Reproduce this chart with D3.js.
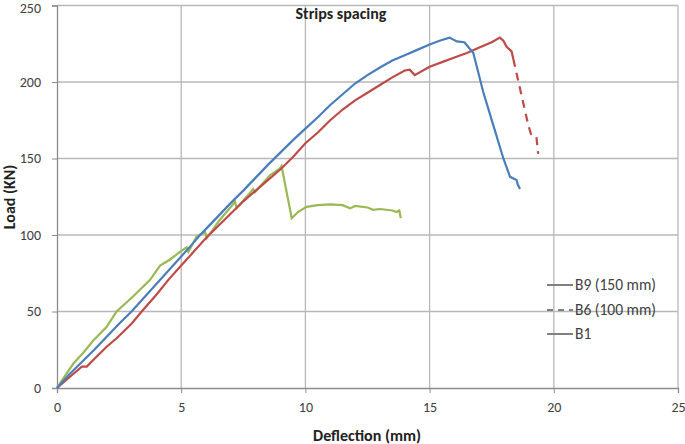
<!DOCTYPE html>
<html><head><meta charset="utf-8">
<script src="https://cdn.jsdelivr.net/npm/d3@7"></script>
<style>
body{margin:0;background:#fff;}
text{font-family:Carlito,Calibri,Lato,"Open Sans",sans-serif;}
</style></head>
<body><svg id="c" width="685" height="444"></svg>
<script>
const title = "Strips spacing";
const xLabel = "Deflection (mm)";
const yLabel = "Load (KN)";
const xTicks = [0,5,10,15,20,25];
const yTicks = [0,50,100,150,200,250];
const legendNames = ["B9 (150 mm)","B6 (100 mm)","B1"];

const blueB9 = [[0,0],[0.5,9],[1,17],[1.5,25],[2,33.5],[2.5,42],[3,50],[3.5,59],[4,68],[4.5,77],[5,86],[5.5,95],[5.76,100],[6,104],[6.5,112.5],[7,121],[7.5,129],[8,137.5],[8.5,146],[9,154],[9.5,162],[10,169.5],[10.5,177],[11,185],[11.5,192],[12,199],[12.5,204.5],[13,209.5],[13.5,214],[14,217.5],[14.5,221],[15,224.5],[15.4,227],[15.8,229],[16.1,226.5],[16.4,226],[16.5,224],[16.76,219],[17.16,193.5],[17.56,172],[17.97,150],[18.24,138],[18.5,136],[18.55,133],[18.64,130]];

const redB6 = [[0,0],[0.5,7],[1,14],[1.2,14],[1.5,19],[2,27],[2.4,32.5],[3,42],[3.41,50],[4,61],[4.5,71],[5,80],[5.5,89],[6,98],[6.5,106],[7,114],[7.5,122],[8,129],[8.5,136],[9,143],[9.5,151],[10,160],[10.5,167],[11,175],[11.5,182],[12,188],[12.5,193],[13,198],[13.5,203],[14,207.5],[14.2,208],[14.4,204.5],[15,210],[15.5,213],[16,216],[16.5,219],[17,222.5],[17.5,226],[17.83,229],[17.97,227],[18.1,223],[18.3,220],[18.37,215]];
const redB6Drop = [[18.37,215],[18.97,172],[19.1,165],[19.3,164],[19.37,153]];

const greenB1 = [[0,0],[0.12,3],[0.66,16],[1.06,23],[1.46,31],[2,40],[2.4,50],[3.07,60],[3.74,70.5],[4.15,80],[4.55,84],[4.95,89],[5.22,92],[5.29,89],[5.62,99],[5.96,102],[6.03,98],[6.56,110],[7.17,121.7],[7.23,117.5],[7.9,130],[7.97,128],[8.57,139],[8.98,143.5],[9.04,145],[9.45,111],[9.7,115],[10.05,118.4],[10.5,119.5],[11,120],[11.5,119.5],[11.8,117.4],[12,119],[12.5,118],[12.73,116.5],[13,117],[13.5,116],[13.67,115],[13.78,116],[13.84,111]];

const svg = d3.select("#c");
const x = d3.scaleLinear().domain([0,25]).range([57,678]);
const y = d3.scaleLinear().domain([0,250]).range([388,5.5]);
const gridCol = "#b8b8b8", axisCol = "#8c8c8c", txtCol = "#404040";
const FF = "Carlito,Calibri,Lato,sans-serif";

// gridlines
svg.append("g").selectAll("line").data(yTicks.filter(d=>d>0)).join("line")
  .attr("x1",x(0)).attr("x2",x(25)).attr("y1",d=>y(d)).attr("y2",d=>y(d))
  .attr("stroke",gridCol).attr("stroke-width",1.3);
svg.append("g").selectAll("line").data(xTicks.filter(d=>d>0)).join("line")
  .attr("y1",y(0)).attr("y2",y(250)).attr("x1",d=>x(d)).attr("x2",d=>x(d))
  .attr("stroke",gridCol).attr("stroke-width",1.3);

// axes
const xa = svg.append("g").attr("transform",`translate(0,${y(0)})`)
  .call(d3.axisBottom(x).tickValues(xTicks).tickSize(5).tickPadding(9).tickFormat(d3.format("d")));
const ya = svg.append("g").attr("transform",`translate(${x(0)},0)`)
  .call(d3.axisLeft(y).tickValues(yTicks).tickSize(5).tickPadding(11).tickFormat(d3.format("d")));
[xa,ya].forEach(a=>{
  a.select(".domain").attr("stroke",axisCol).attr("stroke-width",1.3);
  a.selectAll(".tick line").attr("stroke",axisCol);
  a.selectAll("text").attr("fill",txtCol).attr("font-size",14).style("font-family",FF);
});
ya.selectAll(".tick text").filter(d=>d===250).attr("dy","0.5em");

// lines
const line = d3.line().x(d=>x(d[0])).y(d=>y(d[1]));
svg.append("path").datum(greenB1).attr("d",line).attr("fill","none").attr("stroke","#98b954").attr("stroke-width",2.2);
svg.append("path").datum(redB6).attr("d",line).attr("fill","none").attr("stroke","#be4b48").attr("stroke-width",2.2);
svg.append("path").datum(redB6Drop).attr("d",line).attr("fill","none").attr("stroke","#be4b48").attr("stroke-width",2.2).attr("stroke-dasharray","8,6");
svg.append("path").datum(blueB9).attr("d",line).attr("fill","none").attr("stroke","#4a7ebb").attr("stroke-width",2.2);

// title & labels
svg.append("text").attr("x",341).attr("y",19).attr("text-anchor","middle").attr("font-weight","bold").attr("font-size",16).attr("fill","#222").text(title);
svg.append("text").attr("x",367).attr("y",441).attr("text-anchor","middle").attr("font-weight","bold").attr("font-size",16).attr("fill","#222").text(xLabel);
svg.append("text").attr("transform","translate(15,197) rotate(-90)").attr("text-anchor","middle").attr("font-weight","bold").attr("font-size",16).attr("fill","#222").text(yLabel);

// legend
const lg = svg.append("g");
const ly = [285,310,334];
legendNames.forEach((n,i)=>{
  lg.append("line").attr("x1",547).attr("x2",573).attr("y1",ly[i]).attr("y2",ly[i])
    .attr("stroke","#808080").attr("stroke-width",2).attr("stroke-dasharray", i===1?"6,5":null);
  lg.append("text").attr("x",575).attr("y",ly[i]+5).attr("font-size",15.5).attr("fill",txtCol).text(n);
});
</script></body></html>
